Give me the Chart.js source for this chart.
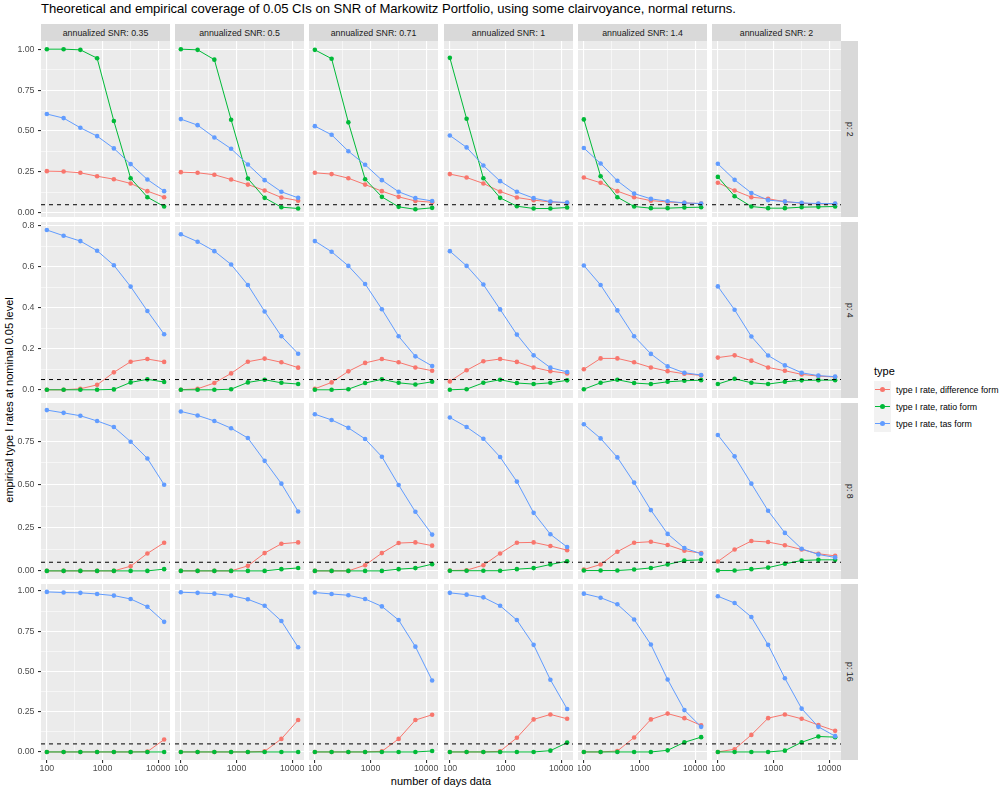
<!DOCTYPE html>
<html>
<head>
<meta charset="utf-8">
<script src="https://cdn.jsdelivr.net/npm/chart.js@4.4.1/dist/chart.umd.min.js"></script>
<style>
    body { margin: 0; background: #fff; font-family: "Liberation Sans", Arial, sans-serif; }
    #wrap { position: relative; width: 1008px; height: 792px; overflow: hidden; }
    #wrap canvas { position: absolute; }
    .strip { position: absolute; background: #D9D9D9; color: #1A1A1A; font-size: 8.8px;
             display: flex; align-items: center; justify-content: center; white-space: nowrap; }
    .strip.right span { writing-mode: vertical-rl; }
    #title { position: absolute; left: 41px; top: 1px; font-size: 13.1px; line-height: 16px; color: #000; white-space: nowrap; }
    #ytitle { position: absolute; left: 9px; top: 400px; transform: translate(-50%, -50%) rotate(-90deg);
              font-size: 11px; white-space: nowrap; color: #000; }
    #xtitle { position: absolute; left: 441px; top: 781px; transform: translate(-50%, -50%);
              font-size: 11px; white-space: nowrap; color: #000; }
    #legend { position: absolute; left: 874px; top: 364px; }
    #legend .ltitle { font-size: 11px; color: #000; height: 17px; line-height: 14px; }
    #legend .row { display: flex; align-items: center; height: 17px; }
    #legend .key { position: relative; width: 17px; height: 17px; background: #F2F2F2; }
    #legend .key .ln { position: absolute; left: 1px; right: 1px; top: 8px; height: 1px; }
    #legend .key .pt { position: absolute; left: 6px; top: 6px; width: 5px; height: 5px; border-radius: 50%; }
    #legend .txt { font-size: 8.8px; color: #000; margin-left: 5px; white-space: nowrap; }
</style>
</head>
<body>
<div id="wrap">
    <div id="title">Theoretical and empirical coverage of 0.05 CIs on SNR of Markowitz Portfolio, using some clairvoyance, normal returns.</div>
    <div id="ytitle">empirical type I rates at nominal 0.05 level</div>
    <div id="xtitle">number of days data</div>
    <div id="legend"></div>
</div>
<script>
// number of days of data (x) and facet levels
const X_DAYS = [100, 200, 400, 800, 1600, 3200, 6400, 12800];
const SNR_LEVELS = ['0.35', '0.5', '0.71', '1', '1.4', '2'];
const P_LEVELS = ['2', '4', '8', '16'];
const SERIES_NAMES = ['type I rate, difference form', 'type I rate, ratio form', 'type I rate, tas form'];
const NOMINAL_LEVEL = 0.05;

// tick labels
const X_TICKS = [100, 1000, 10000];
const Y_TICKS = [
    [0, 0.25, 0.5, 0.75, 1],
    [0, 0.2, 0.4, 0.6, 0.8],
    [0, 0.25, 0.5, 0.75],
    [0, 0.25, 0.5, 0.75, 1]
];
const Y_TICK_LABELS = [
    ['0.00', '0.25', '0.50', '0.75', '1.00'],
    ['0.0', '0.2', '0.4', '0.6', '0.8'],
    ['0.00', '0.25', '0.50', '0.75'],
    ['0.00', '0.25', '0.50', '0.75', '1.00']
];

// p: 2  (one row per SNR level)
const DIFF_P2 = [
    [0.255, 0.253, 0.245, 0.224, 0.206, 0.180, 0.133, 0.096],
    [0.249, 0.245, 0.233, 0.204, 0.173, 0.137, 0.094, 0.075],
    [0.245, 0.237, 0.212, 0.173, 0.133, 0.098, 0.073, 0.065],
    [0.237, 0.216, 0.180, 0.131, 0.094, 0.078, 0.067, 0.061],
    [0.216, 0.184, 0.133, 0.096, 0.075, 0.067, 0.061, 0.057],
    [0.184, 0.137, 0.096, 0.086, 0.069, 0.059, 0.055, 0.055]
];
const RATIO_P2 = [
    [1.000, 1.000, 0.996, 0.945, 0.561, 0.212, 0.096, 0.039],
    [1.000, 0.996, 0.936, 0.569, 0.210, 0.092, 0.035, 0.027],
    [0.996, 0.942, 0.553, 0.206, 0.098, 0.037, 0.022, 0.031],
    [0.947, 0.575, 0.212, 0.092, 0.041, 0.027, 0.027, 0.033],
    [0.571, 0.224, 0.096, 0.039, 0.029, 0.029, 0.033, 0.035],
    [0.220, 0.102, 0.039, 0.029, 0.029, 0.035, 0.037, 0.039]
];
const TAS_P2 = [
    [0.604, 0.579, 0.520, 0.469, 0.394, 0.298, 0.204, 0.133],
    [0.573, 0.536, 0.461, 0.392, 0.296, 0.200, 0.129, 0.092],
    [0.530, 0.477, 0.377, 0.294, 0.200, 0.129, 0.090, 0.073],
    [0.473, 0.400, 0.290, 0.194, 0.129, 0.090, 0.069, 0.063],
    [0.396, 0.302, 0.196, 0.118, 0.086, 0.071, 0.061, 0.057],
    [0.300, 0.202, 0.122, 0.078, 0.069, 0.061, 0.057, 0.057]
];

// p: 4
const DIFF_P4 = [
    [0.000, 0.000, 0.005, 0.024, 0.085, 0.137, 0.150, 0.136],
    [0.000, 0.005, 0.033, 0.080, 0.137, 0.152, 0.134, 0.108],
    [0.005, 0.036, 0.090, 0.131, 0.150, 0.134, 0.109, 0.093],
    [0.041, 0.095, 0.139, 0.150, 0.136, 0.109, 0.091, 0.080],
    [0.100, 0.153, 0.153, 0.134, 0.109, 0.091, 0.078, 0.070],
    [0.157, 0.168, 0.142, 0.109, 0.093, 0.075, 0.067, 0.062]
];
const RATIO_P4 = [
    [0.000, 0.000, 0.000, 0.000, 0.002, 0.036, 0.051, 0.038],
    [0.000, 0.000, 0.000, 0.003, 0.036, 0.049, 0.034, 0.028],
    [0.000, 0.000, 0.003, 0.033, 0.051, 0.034, 0.026, 0.039],
    [0.000, 0.003, 0.034, 0.049, 0.033, 0.028, 0.034, 0.046],
    [0.003, 0.034, 0.049, 0.033, 0.028, 0.039, 0.044, 0.047],
    [0.028, 0.054, 0.034, 0.028, 0.039, 0.046, 0.047, 0.047]
];
const TAS_P4 = [
    [0.779, 0.751, 0.725, 0.678, 0.607, 0.503, 0.384, 0.271],
    [0.758, 0.722, 0.676, 0.611, 0.511, 0.382, 0.261, 0.176],
    [0.725, 0.673, 0.604, 0.516, 0.393, 0.261, 0.163, 0.116],
    [0.676, 0.604, 0.513, 0.392, 0.269, 0.168, 0.108, 0.087],
    [0.606, 0.511, 0.387, 0.261, 0.175, 0.114, 0.083, 0.072],
    [0.504, 0.390, 0.260, 0.167, 0.119, 0.083, 0.069, 0.064]
];

// p: 8
const DIFF_P8 = [
    [0.000, 0.000, 0.000, 0.000, 0.000, 0.027, 0.101, 0.163],
    [0.000, 0.000, 0.000, 0.000, 0.029, 0.103, 0.157, 0.165],
    [0.000, 0.000, 0.000, 0.033, 0.103, 0.161, 0.165, 0.146],
    [0.002, 0.004, 0.033, 0.101, 0.163, 0.165, 0.144, 0.120],
    [0.008, 0.037, 0.111, 0.163, 0.169, 0.150, 0.117, 0.103],
    [0.054, 0.124, 0.173, 0.167, 0.148, 0.124, 0.099, 0.087]
];
const RATIO_P8 = [
    [0.000, 0.000, 0.000, 0.000, 0.000, 0.000, 0.000, 0.010],
    [0.000, 0.000, 0.000, 0.000, 0.000, 0.000, 0.010, 0.017],
    [0.000, 0.000, 0.000, 0.000, 0.000, 0.010, 0.016, 0.039],
    [0.001, 0.001, 0.001, 0.001, 0.010, 0.016, 0.037, 0.056],
    [0.002, 0.002, 0.002, 0.008, 0.017, 0.037, 0.060, 0.064],
    [0.002, 0.002, 0.010, 0.019, 0.041, 0.060, 0.064, 0.064]
];
const TAS_P8 = [
    [0.931, 0.915, 0.898, 0.868, 0.833, 0.748, 0.651, 0.499],
    [0.923, 0.900, 0.868, 0.826, 0.769, 0.637, 0.505, 0.344],
    [0.907, 0.874, 0.828, 0.764, 0.661, 0.497, 0.342, 0.210],
    [0.888, 0.833, 0.765, 0.659, 0.517, 0.336, 0.212, 0.138],
    [0.849, 0.767, 0.657, 0.511, 0.352, 0.214, 0.132, 0.099],
    [0.787, 0.663, 0.505, 0.348, 0.220, 0.128, 0.095, 0.078]
];

// p: 16
const DIFF_P16 = [
    [0.000, 0.000, 0.000, 0.000, 0.000, 0.000, 0.002, 0.077],
    [0.000, 0.000, 0.000, 0.000, 0.000, 0.004, 0.081, 0.198],
    [0.000, 0.000, 0.000, 0.000, 0.004, 0.081, 0.198, 0.231],
    [0.000, 0.000, 0.000, 0.004, 0.088, 0.202, 0.233, 0.206],
    [0.000, 0.000, 0.006, 0.090, 0.202, 0.238, 0.210, 0.165],
    [0.000, 0.017, 0.106, 0.210, 0.233, 0.206, 0.167, 0.131]
];
const RATIO_P16 = [
    [0.000, 0.000, 0.000, 0.000, 0.000, 0.000, 0.000, 0.000],
    [0.000, 0.000, 0.000, 0.000, 0.000, 0.000, 0.000, 0.000],
    [0.000, 0.000, 0.000, 0.000, 0.000, 0.000, 0.000, 0.006],
    [0.000, 0.000, 0.000, 0.000, 0.000, 0.000, 0.008, 0.058],
    [0.000, 0.000, 0.000, 0.000, 0.000, 0.010, 0.060, 0.092],
    [0.000, 0.000, 0.000, 0.000, 0.008, 0.060, 0.096, 0.092]
];
const TAS_P16 = [
    [0.994, 0.990, 0.988, 0.981, 0.971, 0.950, 0.902, 0.808],
    [0.992, 0.988, 0.983, 0.971, 0.948, 0.908, 0.813, 0.650],
    [0.990, 0.981, 0.973, 0.950, 0.904, 0.819, 0.654, 0.444],
    [0.988, 0.977, 0.960, 0.908, 0.819, 0.665, 0.448, 0.267],
    [0.983, 0.958, 0.917, 0.823, 0.667, 0.450, 0.260, 0.156],
    [0.967, 0.925, 0.838, 0.665, 0.458, 0.269, 0.156, 0.098]
];

// rows of the facet grid -> [difference, ratio, tas]
const ROWS = [
    [DIFF_P2, RATIO_P2, TAS_P2],
    [DIFF_P4, RATIO_P4, TAS_P4],
    [DIFF_P8, RATIO_P8, TAS_P8],
    [DIFF_P16, RATIO_P16, TAS_P16]
];

// layout / style
const COLORS = ['#F8766D', '#00BA38', '#619CFF'];
const FONT = '"Liberation Sans", Arial, sans-serif';
const PANEL_LEFT = [41, 175, 309, 444, 578, 712];
const PANEL_TOP = [41, 222, 403, 584];
const PANEL_W = 129;
const PANEL_H = 176;
const STRIP = 17;
const Y_AXIS_W = 41;
const X_AXIS_H = 16;
const X_MIN = 78.5, X_MAX = 16310;
const Y_RANGE = [[-0.025, 1.05], [-0.04, 0.818], [-0.047, 0.972], [-0.05, 1.043]];

const wrap = document.getElementById('wrap');

// minor breaks halfway between majors (one step extended each side)
function minorBreaks(majors, lo, hi, log) {
    const f = log ? Math.log10 : (v) => v;
    const g = log ? (v) => Math.pow(10, v) : (v) => v;
    const m = majors.map(f);
    const step = m[1] - m[0];
    const ext = [m[0] - step, ...m, m[m.length - 1] + step];
    const out = [];
    for (let i = 0; i < ext.length - 1; i++) {
        const v = g((ext[i] + ext[i + 1]) / 2);
        if (v > lo && v < hi) out.push(v);
    }
    return out;
}

// axes must not steal room from the panel for half-labels
function fixSize(s, prop, size) {
    s[prop] = size;
    s.paddingTop = 0;
    s.paddingBottom = 0;
    s.paddingLeft = 0;
    s.paddingRight = 0;
}

const panelBackground = {
    id: 'panelBackground',
    beforeDraw(chart) {
        const { ctx, chartArea: a } = chart;
        ctx.save();
        ctx.fillStyle = '#EBEBEB';
        ctx.fillRect(a.left, a.top, a.width, a.height);
        ctx.restore();
    }
};

const nominalLine = {
    id: 'nominalLine',
    afterDatasetsDraw(chart) {
        const { ctx, chartArea: a, scales } = chart;
        const y = scales.y.getPixelForValue(NOMINAL_LEVEL);
        ctx.save();
        ctx.strokeStyle = '#000';
        ctx.lineWidth = 1;
        ctx.setLineDash([4, 4]);
        ctx.beginPath();
        ctx.moveTo(a.left, y);
        ctx.lineTo(a.right, y);
        ctx.stroke();
        ctx.restore();
    }
};

function makePanel(r, c) {
    const isLeft = c === 0;
    const isBottom = r === P_LEVELS.length - 1;
    const padL = isLeft ? Y_AXIS_W : 0;
    const padB = isBottom ? X_AXIS_H : 0;

    const canvas = document.createElement('canvas');
    canvas.width = PANEL_W + padL;
    canvas.height = PANEL_H + padB;
    canvas.style.width = canvas.width + 'px';
    canvas.style.height = canvas.height + 'px';
    canvas.style.left = (PANEL_LEFT[c] - padL) + 'px';
    canvas.style.top = PANEL_TOP[r] + 'px';
    wrap.appendChild(canvas);

    const [yMin, yMax] = Y_RANGE[r];
    const yMajor = Y_TICKS[r];
    const yMinor = minorBreaks(yMajor, yMin, yMax, false);
    const xMinor = minorBreaks(X_TICKS, X_MIN, X_MAX, true);

    const datasets = ROWS[r].map((series, s) => ({
        label: SERIES_NAMES[s],
        data: X_DAYS.map((x, i) => ({ x: x, y: series[c][i] })),
        borderColor: COLORS[s],
        backgroundColor: COLORS[s],
        borderWidth: 1,
        pointRadius: 2.3,
        pointBorderWidth: 0,
        tension: 0,
        order: 2 - s
    }));

    new Chart(canvas, {
        type: 'line',
        data: { datasets },
        plugins: [panelBackground, nominalLine],
        options: {
            responsive: false,
            animation: false,
            devicePixelRatio: 1,
            layout: { padding: 0, autoPadding: false },
            plugins: { legend: { display: false }, tooltip: { enabled: false } },
            scales: {
                x: {
                    type: 'logarithmic',
                    min: X_MIN,
                    max: X_MAX,
                    afterBuildTicks: (s) => {
                        s.ticks = X_TICKS.map(v => ({ value: v }))
                            .concat(xMinor.map(v => ({ value: v, minor: true })));
                    },
                    afterFit: (s) => fixSize(s, 'height', padB),
                    border: { display: false },
                    grid: {
                        color: '#FFFFFF',
                        lineWidth: (ctx) => (ctx.tick && ctx.tick.minor ? 0.55 : 1.1),
                        drawTicks: isBottom,
                        tickLength: 3,
                        tickColor: (ctx) => (ctx.tick && ctx.tick.minor ? 'rgba(0,0,0,0)' : '#333333')
                    },
                    ticks: {
                        display: isBottom,
                        autoSkip: false,
                        maxRotation: 0,
                        padding: 0,
                        color: '#4D4D4D',
                        font: { family: FONT, size: 8.8 },
                        callback: (v) => (X_TICKS.includes(v) ? String(v) : '')
                    }
                },
                y: {
                    type: 'linear',
                    min: yMin,
                    max: yMax,
                    afterBuildTicks: (s) => {
                        s.ticks = yMajor.map(v => ({ value: v }))
                            .concat(yMinor.map(v => ({ value: v, minor: true })));
                    },
                    afterFit: (s) => fixSize(s, 'width', padL),
                    border: { display: false },
                    grid: {
                        color: '#FFFFFF',
                        lineWidth: (ctx) => (ctx.tick && ctx.tick.minor ? 0.55 : 1.1),
                        drawTicks: isLeft,
                        tickLength: 3,
                        tickColor: (ctx) => (ctx.tick && ctx.tick.minor ? 'rgba(0,0,0,0)' : '#333333')
                    },
                    ticks: {
                        display: isLeft,
                        autoSkip: false,
                        padding: 3.5,
                        color: '#4D4D4D',
                        font: { family: FONT, size: 8.8 },
                        callback: (v) => {
                            const k = yMajor.indexOf(v);
                            return k >= 0 ? Y_TICK_LABELS[r][k] : '';
                        }
                    }
                }
            }
        }
    });
}

function addStrip(text, left, top, w, h, right) {
    const d = document.createElement('div');
    d.className = 'strip' + (right ? ' right' : '');
    d.style.left = left + 'px';
    d.style.top = top + 'px';
    d.style.width = w + 'px';
    d.style.height = h + 'px';
    const sp = document.createElement('span');
    sp.textContent = text;
    d.appendChild(sp);
    wrap.appendChild(d);
}

P_LEVELS.forEach((p, r) => {
    SNR_LEVELS.forEach((snr, c) => makePanel(r, c));
});

// facet strips
SNR_LEVELS.forEach((snr, c) => {
    addStrip('annualized SNR: ' + snr, PANEL_LEFT[c], PANEL_TOP[0] - STRIP, PANEL_W, STRIP, false);
});
P_LEVELS.forEach((p, r) => {
    const last = PANEL_LEFT.length - 1;
    addStrip('p: ' + p, PANEL_LEFT[last] + PANEL_W, PANEL_TOP[r], STRIP, PANEL_H, true);
});

// legend
const legend = document.getElementById('legend');
const lt = document.createElement('div');
lt.className = 'ltitle';
lt.textContent = 'type';
legend.appendChild(lt);
SERIES_NAMES.forEach((name, s) => {
    const row = document.createElement('div');
    row.className = 'row';
    row.innerHTML = '<div class="key"><div class="ln"></div><div class="pt"></div></div><div class="txt"></div>';
    row.querySelector('.ln').style.background = COLORS[s];
    row.querySelector('.pt').style.background = COLORS[s];
    row.querySelector('.txt').textContent = name;
    legend.appendChild(row);
});
</script>
</body>
</html>
